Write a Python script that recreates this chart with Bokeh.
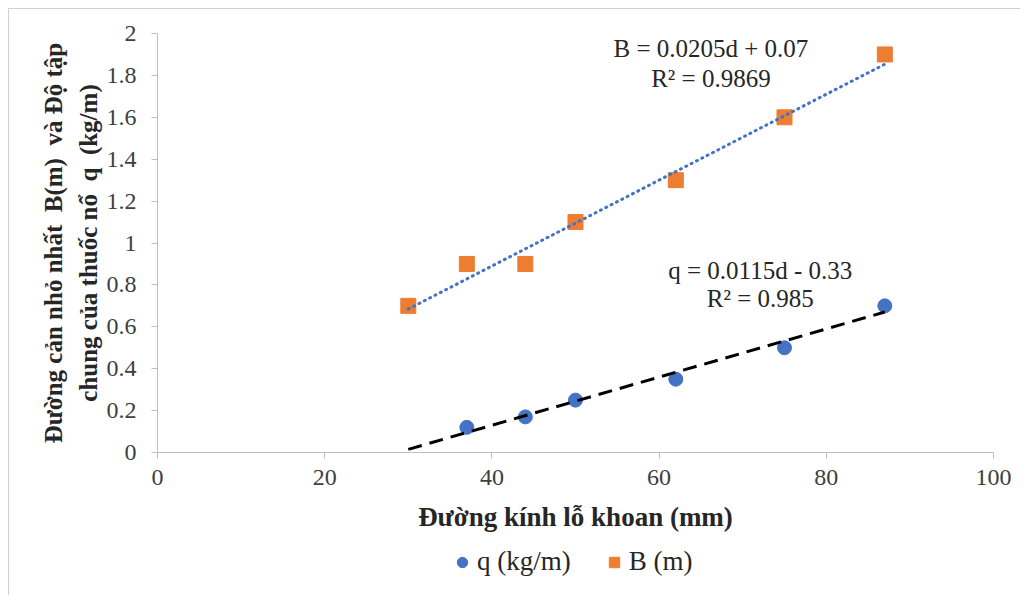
import math
from bokeh.plotting import figure
from bokeh.models import Range1d, Label, Legend, LegendItem, FixedTicker
from bokeh.embed import file_html
from bokeh.resources import INLINE

# ---- data ----
d_q = [37, 44, 50, 62, 75, 87]
q_vals = [0.12, 0.17, 0.25, 0.35, 0.50, 0.70]
d_B = [30, 37, 44, 50, 62, 75, 87]
B_vals = [0.70, 0.90, 0.90, 1.10, 1.30, 1.60, 1.90]

# trendline equations (from chart text)
B_slope, B_int = 0.0205, 0.07
q_slope, q_int = 0.0115, -0.33
trend_x = [30, 87]

x_ticks = [0, 20, 40, 60, 80, 100]
y_ticks = [0, 0.2, 0.4, 0.6, 0.8, 1, 1.2, 1.4, 1.6, 1.8, 2]
y_tick_labels = ["0", "0.2", "0.4", "0.6", "0.8", "1", "1.2", "1.4", "1.6", "1.8", "2"]

NB = "\u00a0"
x_title = "Đường kính lỗ khoan (mm)"
y_title_1 = f"Đường cản nhỏ nhất {NB}B(m) {NB}và Độ tập"
y_title_2 = f"chung của thuốc nổ {NB}q {NB}(kg/m)"
eq_B = ["B = 0.0205d + 0.07", "R² = 0.9869"]
eq_q = ["q = 0.0115d - 0.33", "R² = 0.985"]
legend_labels = ["q (kg/m)", "B (m)"]

BLUE = "#4472C4"
ORANGE = "#ED7D31"
SERIF = "Liberation Serif"
AXIS_GRAY = "#BFBFBF"

# layout: plot area 836 x 419 px for x 0..100, y 0..2; the frame is enlarged so that the
# axes (drawn at fixed locations), their titles and the legend all sit inside it
PX_X = 836 / 100.0
PX_Y = 419 / 2.0
PAD_LEFT, PAD_RIGHT, PAD_TOP = 137, 22, 20
FRAME_H = 544 + PAD_TOP
FRAME_W = 836 + PAD_LEFT + PAD_RIGHT
X_LEFT = 0 - PAD_LEFT / PX_X
X_RIGHT = 100 + PAD_RIGHT / PX_X
Y_TOP = 2 + PAD_TOP / PX_Y
Y_BOTTOM = Y_TOP - FRAME_H / PX_Y

p = figure(frame_width=FRAME_W, frame_height=FRAME_H, output_backend="svg", toolbar_location=None,
           x_range=Range1d(X_LEFT, X_RIGHT), y_range=Range1d(Y_BOTTOM, Y_TOP),
           min_border_left=11, min_border_right=5, min_border_top=24 - PAD_TOP,
           min_border_bottom=18)
p.styles = {"border-top": "1px solid #D0D0D0", "border-left": "1px solid #D0D0D0",
            "margin-left": "8px", "margin-top": "8px"}
p.outline_line_color = None
p.grid.visible = False
p.background_fill_color = "white"
p.border_fill_color = "white"

# axes
p.xaxis.fixed_location = 0
p.yaxis.fixed_location = 0
p.xaxis.bounds = (0, 100)
p.yaxis.bounds = (0, 2)
p.xaxis.ticker = FixedTicker(ticks=x_ticks)
p.yaxis.ticker = FixedTicker(ticks=y_ticks)
p.yaxis.major_label_overrides = {t: l for t, l in zip(y_ticks, y_tick_labels)}
for ax in (p.xaxis, p.yaxis):
    ax.axis_line_color = AXIS_GRAY
    ax.major_tick_line_color = AXIS_GRAY
    ax.minor_tick_line_color = None
    ax.major_tick_out = 6
    ax.major_tick_in = 0
    ax.major_label_text_font = SERIF
    ax.major_label_text_font_size = "24px"
    ax.major_label_text_color = "#404040"
    ax.axis_label_text_font = SERIF
    ax.axis_label_text_font_style = "bold"
    ax.axis_label_text_color = "#262626"
p.yaxis.major_label_standoff = 15
p.xaxis.major_label_standoff = 11
p.xaxis.axis_label = x_title
p.xaxis.axis_label_text_font_size = "27px"
p.xaxis.axis_label_standoff = 14
p.yaxis.axis_label = y_title_1 + "\n" + y_title_2
p.yaxis.axis_label_text_font_size = "25px"
p.yaxis.axis_label_text_line_height = 1.28
p.yaxis.axis_label_standoff = 2

# markers
r_q = p.scatter(d_q, q_vals, marker="circle", size=14, fill_color=BLUE, line_color=BLUE)
r_B = p.scatter(d_B, B_vals, marker="square", size=15, fill_color=ORANGE, line_color=ORANGE)

# trendlines
p.line(trend_x, [B_slope * x + B_int for x in trend_x], line_color=BLUE, line_width=3,
       line_dash="1 5", line_cap="round")
p.line(trend_x, [q_slope * x + q_int for x in trend_x], line_color="black", line_width=3,
       line_dash="14 8")

# equation labels
for (t1, t2), (cx, y1, y2) in ((eq_B, (66.2, 1.928, 1.785)), (eq_q, (72.1, 0.869, 0.735))):
    for t, yy in ((t1, y1), (t2, y2)):
        p.add_layout(Label(x=cx, y=yy, text=t, text_align="center", text_baseline="middle",
                           text_font=SERIF, text_font_size="25px", text_color="#262626"))

# legend: left edge placed under x = 35 of the plot area, bottom at the frame bottom
LEGEND_LEFT_PX = PAD_LEFT + 292
legend = Legend(items=[LegendItem(label=legend_labels[0], renderers=[r_q]),
                       LegendItem(label=legend_labels[1], renderers=[r_B])],
                orientation="horizontal", location=(LEGEND_LEFT_PX, 0),
                label_text_font=SERIF, label_text_font_size="27px", label_text_color="#262626",
                glyph_width=26, glyph_height=26, label_standoff=2, spacing=30,
                border_line_color=None, background_fill_alpha=0, margin=0, padding=4)
p.add_layout(legend, "center")

open("out.html", "w").write(file_html(p, INLINE))
